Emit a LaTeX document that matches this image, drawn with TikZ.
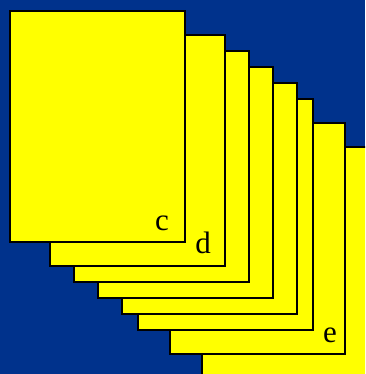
\documentclass[tikz,border=0pt]{standalone}
\usepackage{fontspec}
\setmainfont{Liberation Serif}
\definecolor{slideblue}{RGB}{0,50,140}
\definecolor{sheetyellow}{RGB}{255,255,0}
\tikzset{sheet/.style={draw=black,fill=sheetyellow,line width=1.4pt},
  tag/.style={anchor=base,inner sep=0pt,font=\fontsize{31}{31}\selectfont}}
\begin{document}
\begin{tikzpicture}[x=1pt,y=-1pt]
\useasboundingbox (0,0) rectangle (365,374);
\clip (0,0) rectangle (365,374);
\fill[slideblue] (0,0) rectangle (365,374);
\foreach \px/\py in {202/147,170/123,138/99,122/83,98/67,74/51,50/35,10/11}{
  \draw[sheet] (\px,\py) rectangle ++(175,231);
}
\node[tag] (c) at (162,230) {c};
\node[tag] (d) at (203,253) {d};
\node[tag] (e) at (330,342) {e};
\end{tikzpicture}
\end{document}
